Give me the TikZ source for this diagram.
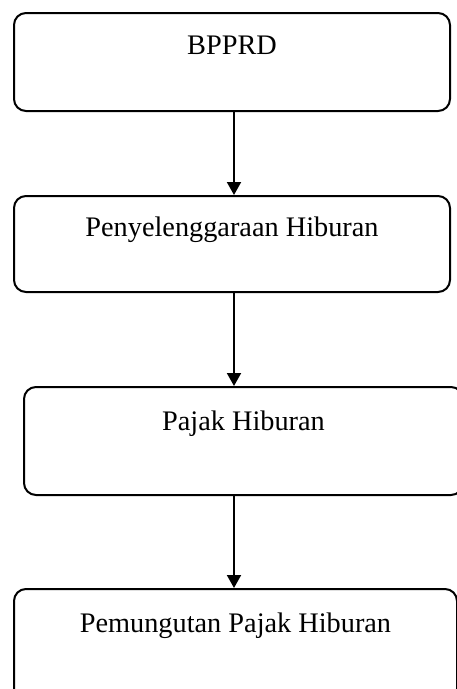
\documentclass[tikz,border=0pt]{standalone}
\usepackage{fontspec}
\setmainfont{Liberation Serif}
\usetikzlibrary{arrows.meta}
\begin{document}
\begin{tikzpicture}[x=1pt,y=-1pt,
  box/.style={draw, line width=2pt, rounded corners=12pt, inner sep=0pt,
    anchor=north west, align=center, font=\fontsize{28.3}{33}\selectfont},
  conn/.style={line width=2pt, -{Triangle[width=14pt,length=13pt]}}]
\useasboundingbox (0,0) rectangle (457,689);
\clip (0,0) rectangle (457,689);
\node[box, minimum width=436pt, text height=41pt, text depth=57pt] (b1) at (13,12) {BPPRD};
\node[box, minimum width=436pt, text height=40pt, text depth=56pt] (b2) at (13,195) {Penyelenggaraan Hiburan};
\node[box, minimum width=439pt, text height=43pt, text depth=65pt] (b3) at (23,386) {Pajak Hiburan};
\node[box, minimum width=443pt, text height=43pt, text depth=69pt] (b4) at (13,588) {Pemungutan Pajak Hiburan};
\draw[conn] ([xshift=2pt]b1.south) -- ([xshift=2pt]b1.south |- b2.north);
\draw[conn] ([xshift=2pt]b2.south) -- ([xshift=2pt]b2.south |- b3.north);
\draw[conn] ([xshift=-9.5pt]b3.south) -- ([xshift=-9.5pt]b3.south |- b4.north);
\end{tikzpicture}
\end{document}
